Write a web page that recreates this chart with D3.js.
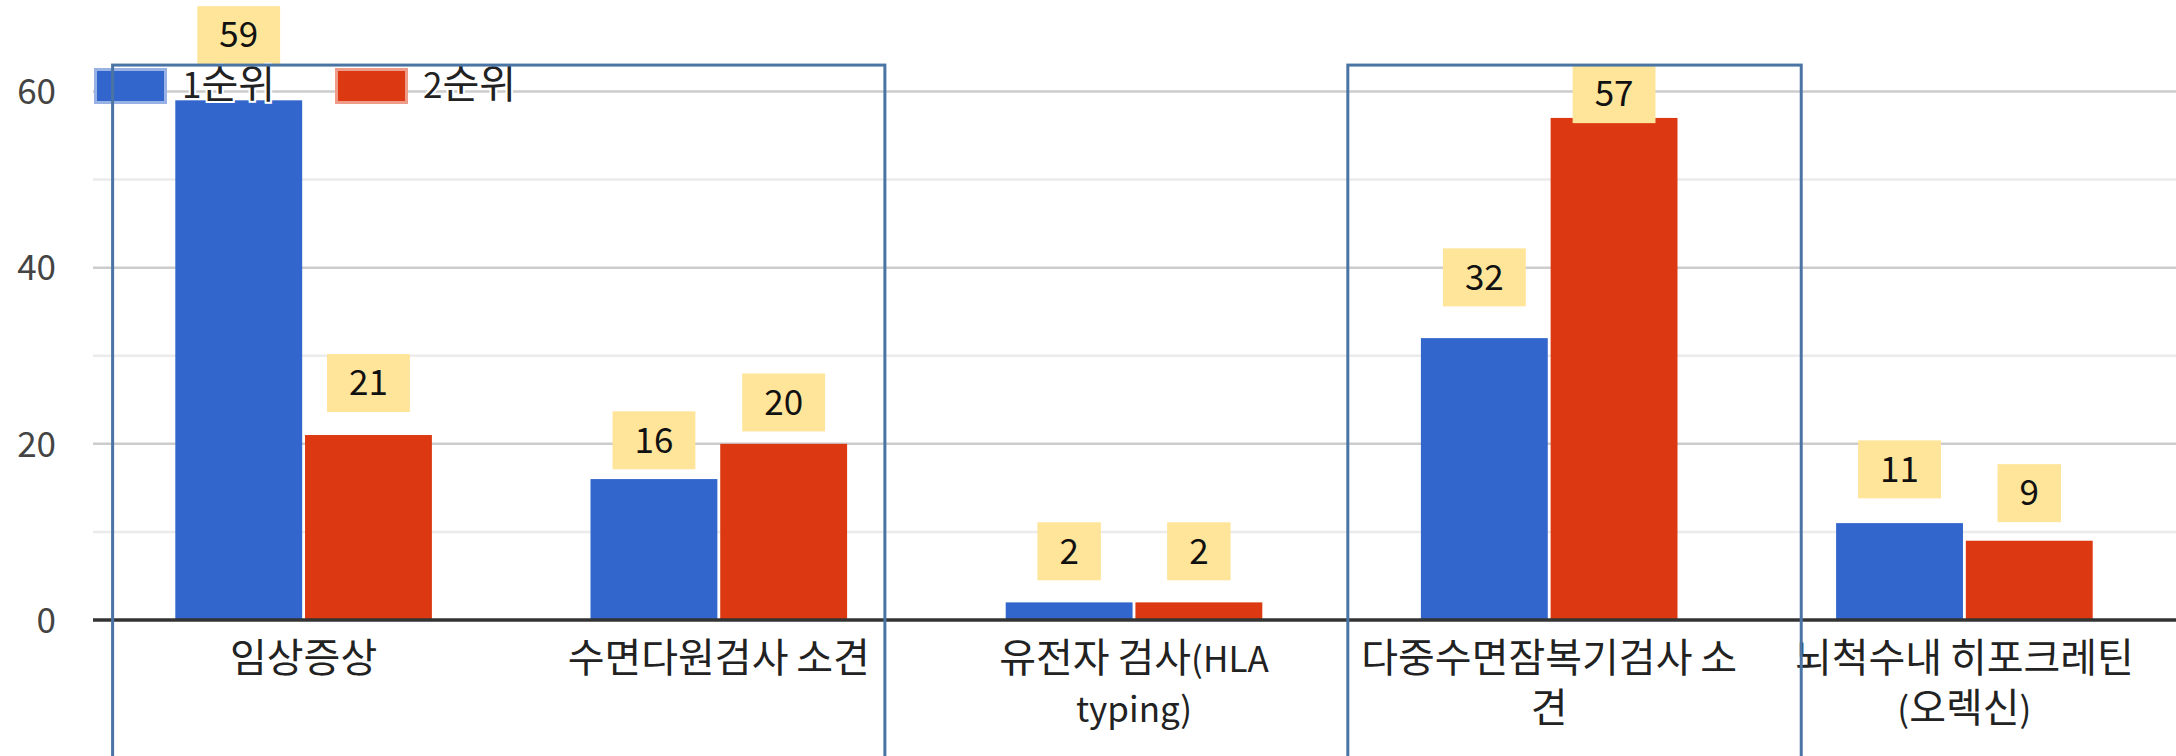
<!DOCTYPE html>
<html>
<head>
<meta charset="utf-8">
<script src="https://cdn.jsdelivr.net/npm/d3@7"></script>
<style>
body { margin: 0; background: #fff; }
svg { display: block; font-family: "Noto Sans CJK KR", "Noto Sans", sans-serif; }
</style>
</head>
<body>
<div id="canvas"></div>
<script>
// data
var categories = ["임상증상", "수면다원검사 소견", "유전자 검사(HLA\ntyping)", "다중수면잠복기검사 소\n견", "뇌척수내 히포크레틴\n(오렉신)"];
var seriesNames = ["1순위", "2순위"];
var rank1 = [59, 16, 2, 32, 11];
var rank2 = [21, 20, 2, 57, 9];
// level on the value axis where each annotation box sits
var rank1LabelAt = [66.4, 20.4, 7.8, 38.9, 17.1];
var rank2LabelAt = [26.9, 24.7, 7.8, 59.7, 14.4];
var majorTicks = [0, 20, 40, 60];
var minorTicks = [10, 30, 50];
// highlighted regions, in category units (start, end) and top value
var highlightSpans = [[0.04, 1.9], [3.015, 4.107]];
var highlightTop = 63;

var colors = ["#3366cc", "#dc3912"];
var swatchBorder = ["#99b2e6", "#ee9c89"];

var width = 2176;
var height = 756;
var plotLeft = 93;
var plotRight = 2176;
var fontSize = 35;
var hangulSize = 40;

var svg = d3.select("#canvas").append("svg")
	.attr("width", width)
	.attr("height", height);

// the reference font draws hangul larger than latin/digits: split into runs
function fillRuns(sel, str) {
	var runs = str.match(/[\uac00-\ud7a3]+|[^\uac00-\ud7a3]+/g) || [];
	runs.forEach(function(r){
		var hangul = /[\uac00-\ud7a3]/.test(r);
		sel.append("tspan")
			.attr("font-size", hangul ? hangulSize : fontSize)
			.text(r);
	});
}

var y = d3.scaleLinear().domain([0, 60]).range([620, 91.5]);

var x0 = d3.scaleBand().domain(d3.range(categories.length))
	.range([96, 2172]).paddingInner(0.382).paddingOuter(0.191);
var x1 = d3.scaleBand().domain(d3.range(seriesNames.length))
	.range([0, x0.bandwidth()]).paddingInner(0.022);

// continuous position along the category axis (for the highlight boxes)
var step = x0.step();
var catPos = d3.scaleLinear().domain([0, categories.length]).range([96, 96 + step * categories.length]);

// gridlines
svg.append("g").selectAll("line").data(minorTicks).join("line")
	.attr("x1", plotLeft).attr("x2", plotRight)
	.attr("y1", function(d){return y(d);}).attr("y2", function(d){return y(d);})
	.style("stroke", "#ebebeb").style("stroke-width", 2.5);
svg.append("g").selectAll("line").data(majorTicks.filter(function(d){return d > 0;})).join("line")
	.attr("x1", plotLeft).attr("x2", plotRight)
	.attr("y1", function(d){return y(d);}).attr("y2", function(d){return y(d);})
	.style("stroke", "#cccccc").style("stroke-width", 2.5);

// bars
var series = [rank1, rank2];
var groups = svg.append("g").selectAll("g").data(categories).join("g")
	.attr("transform", function(d, i){return "translate(" + x0(i) + ",0)";});
groups.selectAll("rect").data(function(d, i){return series.map(function(s, j){return {s: j, v: s[i]};});})
	.join("rect")
	.attr("x", function(d){return x1(d.s);})
	.attr("width", x1.bandwidth())
	.attr("y", function(d){return y(d.v);})
	.attr("height", function(d){return y(0) - y(d.v);})
	.style("fill", function(d){return colors[d.s];});

// baseline
svg.append("line")
	.attr("x1", plotLeft).attr("x2", plotRight)
	.attr("y1", y(0)).attr("y2", y(0))
	.style("stroke", "#333").style("stroke-width", 3.5);

// y axis labels
var yAxis = d3.axisLeft(y).tickValues(majorTicks).tickSize(0).tickPadding(0);
var yg = svg.append("g").attr("transform", "translate(56,0)").call(yAxis);
yg.select(".domain").remove();
yg.selectAll("text")
	.attr("font-size", fontSize)
	.attr("font-family", "\"Noto Sans CJK KR\", sans-serif")
	.attr("fill", "#444")
	.attr("dy", "0.35em");

// category labels (wrapped as in the reference)
categories.forEach(function(c, i){
	c.split("\n").forEach(function(line, k){
		var t = svg.append("text")
			.attr("x", x0(i) + x0.bandwidth() / 2)
			.attr("y", 660 + k * 50)
			.attr("dy", "0.35em")
			.attr("text-anchor", "middle")
			.attr("font-size", fontSize)
			.attr("fill", "#222");
		fillRuns(t, line);
	});
});

// value annotation boxes
var labelAt = [rank1LabelAt, rank2LabelAt];
var annots = [];
categories.forEach(function(c, i){
	series.forEach(function(s, j){
		annots.push({cx: x0(i) + x1(j) + x1.bandwidth() / 2, v: s[i], at: labelAt[j][i]});
	});
});
var ag = svg.append("g").selectAll("g").data(annots).join("g")
	.attr("transform", function(d){return "translate(" + d.cx + "," + y(d.at) + ")";});
ag.append("rect").style("fill", "#ffe599");
ag.append("text")
	.attr("text-anchor", "middle")
	.attr("dy", "0.35em")
	.attr("font-size", fontSize)
	.attr("fill", "#111")
	.text(function(d){return d.v;});
ag.each(function(){
	var g = d3.select(this);
	var w = g.select("text").node().getComputedTextLength() + 44;
	g.select("rect").attr("x", -w / 2).attr("y", -29).attr("width", w).attr("height", 58);
});

// legend
var legend = svg.append("g").selectAll("g").data(seriesNames).join("g")
	.attr("transform", function(d, i){return "translate(" + (94 + i * 241) + ",86)";});
legend.append("rect")
	.attr("x", 1.5).attr("y", -16.5).attr("width", 70).attr("height", 33)
	.style("fill", function(d, i){return colors[i];})
	.style("stroke", function(d, i){return swatchBorder[i];})
	.style("stroke-width", 3);
legend.each(function(d){
	var t = d3.select(this).append("text")
		.attr("x", 88).attr("dy", "0.35em")
		.attr("font-size", fontSize)
		.attr("fill", "#222")
		.style("stroke", "#fff").style("stroke-width", 4).style("paint-order", "stroke");
	fillRuns(t, d);
});

// highlight boxes drawn over the chart
svg.append("g").selectAll("rect").data(highlightSpans).join("rect")
	.attr("x", function(d){return catPos(d[0]);})
	.attr("y", y(highlightTop))
	.attr("width", function(d){return catPos(d[1]) - catPos(d[0]);})
	.attr("height", height)
	.style("fill", "none")
	.style("stroke", "#4a74a3")
	.style("stroke-width", 3);
</script>
</body>
</html>
